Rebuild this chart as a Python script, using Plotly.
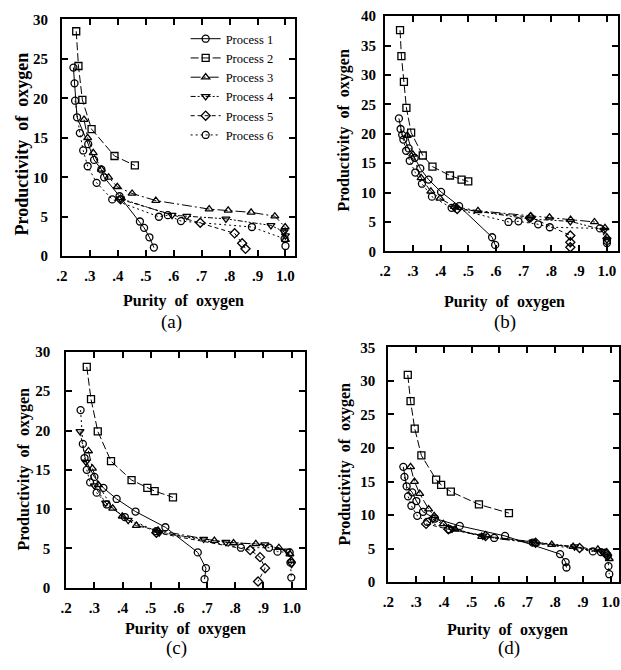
import plotly.graph_objects as go

# ---------------- data ----------------
PROCESSES = ["Process 1", "Process 2", "Process 3", "Process 4", "Process 5", "Process 6"]
X_TICK_VALS = [0.2, 0.3, 0.4, 0.5, 0.6, 0.7, 0.8, 0.9, 1.0]
X_TICK_TEXT = [".2", ".3", ".4", ".5", ".6", ".7", ".8", ".9", "1.0"]
PANEL_LABELS = ["(a)", "(b)", "(c)", "(d)"]
X_TITLE = "Purity of oxygen"
Y_TITLE = "Productivity of oxygen"

# panel (a)
A1_X = [0.241, 0.245, 0.254, 0.294, 0.315, 0.341, 0.351, 0.406, 0.479, 0.494, 0.513, 0.529]
A1_Y = [23.9, 21.9, 17.6, 14.2, 12.2, 11.0, 10.0, 7.6, 4.4, 3.6, 2.4, 1.1]
A2_X = [0.251, 0.259, 0.273, 0.306, 0.388, 0.461]
A2_Y = [28.5, 24.1, 19.8, 16.1, 12.7, 11.5]
A3_X = [0.279, 0.292, 0.312, 0.341, 0.367, 0.398, 0.451, 0.536, 0.727, 0.795, 0.877, 0.962, 0.999, 1.0]
A3_Y = [17.3, 15.0, 13.1, 11.0, 10.0, 8.8, 7.95, 7.05, 5.97, 5.8, 5.56, 5.07, 3.7, 2.1]
A4_X = [0.41, 0.594, 0.647, 0.787, 0.948, 0.995, 1.0]
A4_Y = [7.3, 5.2, 5.07, 4.74, 3.9, 3.1, 2.6]
A5_X = [0.41, 0.695, 0.818, 0.845, 0.857]
A5_Y = [7.2, 4.24, 2.9, 1.64, 0.94]
A6_X = [0.247, 0.264, 0.276, 0.292, 0.324, 0.38, 0.547, 0.579, 0.626, 0.88, 0.997, 1.0]
A6_Y = [19.7, 15.6, 13.4, 11.4, 9.3, 7.2, 5.0, 5.2, 4.45, 3.7, 2.2, 1.3]

# panel (b)
B1_X = [0.25, 0.262, 0.285, 0.307, 0.327, 0.357, 0.402, 0.467, 0.586, 0.597]
B1_Y = [22.6, 19.8, 17.5, 15.9, 14.1, 12.2, 10.1, 7.7, 2.4, 1.1]
B2_X = [0.254, 0.259, 0.268, 0.277, 0.294, 0.336, 0.371, 0.434, 0.476, 0.5]
B2_Y = [37.6, 33.2, 28.8, 24.4, 20.2, 16.3, 14.4, 12.9, 12.2, 11.9]
B3_X = [0.28, 0.30, 0.33, 0.365, 0.398, 0.45, 0.535, 0.725, 0.793, 0.869, 0.955, 0.993, 1.0]
B3_Y = [19.7, 16.5, 12.5, 10.2, 9.0, 7.6, 6.9, 6.0, 5.8, 5.4, 5.0, 4.0, 2.4]
B4_X = [0.45, 0.72, 0.868, 0.99, 1.0]
B4_Y = [7.4, 5.5, 5.1, 3.6, 2.0]
B5_X = [0.46, 0.725, 0.868, 0.868, 0.868]
B5_Y = [7.2, 5.8, 2.7, 1.55, 0.7]
B6_X = [0.256, 0.266, 0.276, 0.289, 0.309, 0.333, 0.369, 0.44, 0.645, 0.681, 0.752, 0.794, 0.975, 1.0, 1.0]
B6_Y = [20.8, 19.0, 17.1, 15.4, 13.4, 11.5, 9.3, 7.4, 5.0, 5.1, 4.6, 4.1, 3.9, 1.8, 1.4]

# panel (c)
C1_X = [0.265, 0.3, 0.332, 0.379, 0.446, 0.552, 0.667, 0.696, 0.691]
C1_Y = [16.5, 14.1, 12.7, 11.3, 9.7, 7.7, 4.5, 2.5, 1.1]
C2_X = [0.273, 0.288, 0.312, 0.359, 0.432, 0.488, 0.514, 0.579]
C2_Y = [28.1, 24.0, 19.9, 16.1, 13.7, 12.7, 12.3, 11.5]
C3_X = [0.279, 0.293, 0.314, 0.365, 0.399, 0.449, 0.526, 0.726, 0.794, 0.873, 0.955, 0.994, 0.999]
C3_Y = [17.4, 15.2, 13.1, 10.1, 9.1, 7.9, 7.3, 6.0, 5.7, 5.6, 5.1, 4.3, 3.5]
C4_X = [0.249, 0.27, 0.30, 0.34, 0.42, 0.53, 0.688, 0.767, 0.905, 0.985, 1.0]
C4_Y = [19.9, 16.0, 13.0, 10.8, 8.6, 7.0, 6.2, 5.8, 5.5, 4.7, 3.0]
C5_X = [0.52, 0.853, 0.888, 0.906, 0.881]
C5_Y = [7.0, 4.8, 3.9, 2.5, 0.8]
C6_X = [0.251, 0.259, 0.273, 0.285, 0.308, 0.344, 0.408, 0.52, 0.82, 0.92, 0.95, 0.993, 0.996, 0.999]
C6_Y = [22.6, 18.3, 15.0, 13.4, 12.1, 10.6, 9.0, 7.2, 5.1, 5.1, 4.6, 4.5, 3.2, 1.3]

# panel (d)
D1_X = [0.254, 0.266, 0.286, 0.301, 0.325, 0.368, 0.457, 0.62, 0.818, 0.838, 0.841]
D1_Y = [17.2, 14.3, 13.4, 12.1, 10.5, 9.5, 8.4, 6.9, 4.2, 3.0, 2.2]
D2_X = [0.27, 0.28, 0.295, 0.319, 0.372, 0.39, 0.425, 0.526, 0.634]
D2_Y = [30.9, 27.0, 22.9, 18.9, 15.3, 14.5, 13.5, 11.6, 10.3]
D3_X = [0.28, 0.294, 0.313, 0.345, 0.365, 0.398, 0.44, 0.536, 0.729, 0.788, 0.865, 0.954, 0.986, 0.995]
D3_Y = [17.2, 15.0, 13.2, 10.9, 9.9, 8.7, 7.9, 6.8, 5.8, 5.6, 5.3, 4.9, 4.5, 3.5]
D4_X = [0.36, 0.43, 0.54, 0.72, 0.87, 0.97, 0.99]
D4_Y = [9.4, 8.0, 6.9, 6.0, 5.3, 4.6, 3.8]
D5_X = [0.336, 0.416, 0.55, 0.73, 0.888, 0.98]
D5_Y = [8.7, 7.9, 6.9, 5.9, 5.1, 4.3]
D6_X = [0.258, 0.271, 0.283, 0.304, 0.34, 0.42, 0.581, 0.72, 0.936, 0.965, 0.989, 0.992, 0.995]
D6_Y = [15.7, 12.8, 11.4, 9.9, 9.0, 7.9, 6.6, 5.9, 4.6, 4.5, 4.0, 2.4, 1.2]

PANEL_DATA = [
    [(A1_X, A1_Y), (A2_X, A2_Y), (A3_X, A3_Y), (A4_X, A4_Y), (A5_X, A5_Y), (A6_X, A6_Y)],
    [(B1_X, B1_Y), (B2_X, B2_Y), (B3_X, B3_Y), (B4_X, B4_Y), (B5_X, B5_Y), (B6_X, B6_Y)],
    [(C1_X, C1_Y), (C2_X, C2_Y), (C3_X, C3_Y), (C4_X, C4_Y), (C5_X, C5_Y), (C6_X, C6_Y)],
    [(D1_X, D1_Y), (D2_X, D2_Y), (D3_X, D3_Y), (D4_X, D4_Y), (D5_X, D5_Y), (D6_X, D6_Y)],
]
Y_MAX = [30, 40, 30, 35]
X_MAX = [1.035, 1.04, 1.048, 1.03]

# ---------------- styling / layout ----------------
W, H = 621, 670
SYMBOLS = ["circle-open", "square-open", "triangle-up-open", "triangle-down-open", "diamond-open", "circle-open"]
DASHES = ["solid", "8px,3px", "10px,3px,2px,3px", "5px,2px,2px,2px,2px,2px", "4px,3px", "2px,3px"]

# plot boxes in pixels: left, right, top, bottom
BOXES = [(56.7, 293, 11.7, 254.3), (384, 620, 8.3, 249.3), (61, 303, 352.3, 594), (387.3, 621, 347.7, 588.3)]
YLAB_STANDOFF = [9, 4, 11, 8]
YTITLE_POS = [(16, 139, 18), (342, 126, 16), (18, 473, 16), (343, 468, 16)]
XTITLE_POS = [(180, 300), (505, 301), (182, 636), (508, 637)]
PLABEL_POS = [(168, 322), (506, 322), (173, 656), (510, 656)]

SERIF = "Liberation Serif, 'Times New Roman', Times, serif"
fig = go.Figure()

for p in range(4):
    suffix = "" if p == 0 else str(p + 1)
    for k, (xs, ys) in enumerate(PANEL_DATA[p]):
        fig.add_trace(go.Scatter(
            x=xs, y=ys, mode="lines+markers", name=PROCESSES[k],
            xaxis="x" + suffix, yaxis="y" + suffix,
            showlegend=(p == 0),
            line=dict(color="black", width=1, dash=DASHES[k]),
            marker=dict(symbol=SYMBOLS[k], size=7, color="black", line=dict(width=1.3, color="black")),
            cliponaxis=False,
        ))
    l, r, t, b = BOXES[p]
    fig.layout["xaxis" + suffix] = dict(
        domain=[l / W, r / W], range=[0.2, X_MAX[p]], anchor="y" + suffix,
        tickvals=X_TICK_VALS, ticktext=X_TICK_TEXT,
        ticks="inside", ticklen=6, tickwidth=1.5, tickcolor="black",
        showline=True, linewidth=2, linecolor="black", mirror="ticks",
        showgrid=False, zeroline=False, ticklabelstandoff=5,
        ticklabeloverflow="allow",
        tickfont=dict(family=SERIF, size=15, color="black", weight="bold"),
    )
    fig.layout["yaxis" + suffix] = dict(
        domain=[1 - b / H, 1 - t / H], range=[0, Y_MAX[p]], anchor="x" + suffix,
        dtick=5, tick0=0,
        ticks="inside", ticklen=6, tickwidth=1.5, tickcolor="black",
        showline=True, linewidth=2, linecolor="black", mirror="ticks",
        showgrid=False, zeroline=False, ticklabelstandoff=YLAB_STANDOFF[p],
        ticklabeloverflow="allow",
        tickfont=dict(family=SERIF, size=15, color="black", weight="bold"),
    )

annotations = []
for p in range(4):
    yx, yy, ysz = YTITLE_POS[p]
    annotations.append(dict(
        x=yx / W, y=1 - yy / H, xref="paper", yref="paper", showarrow=False,
        text=Y_TITLE.replace(" ", "\u00a0\u00a0"), textangle=-90,
        font=dict(family=SERIF, size=ysz, color="black", weight="bold"),
        xanchor="center", yanchor="middle",
    ))
    xx, xy = XTITLE_POS[p]
    annotations.append(dict(
        x=xx / W, y=1 - xy / H, xref="paper", yref="paper", showarrow=False,
        text=X_TITLE.replace(" ", "\u00a0\u00a0"),
        font=dict(family=SERIF, size=16, color="black", weight="bold"),
        xanchor="center", yanchor="middle",
    ))
    lx, ly = PLABEL_POS[p]
    annotations.append(dict(
        x=lx / W, y=1 - ly / H, xref="paper", yref="paper", showarrow=False,
        text=PANEL_LABELS[p],
        font=dict(family=SERIF, size=19, color="black"),
        xanchor="center", yanchor="middle",
    ))

fig.update_layout(
    width=W, height=H,
    margin=dict(l=0, r=0, t=0, b=0),
    paper_bgcolor="white", plot_bgcolor="white",
    annotations=annotations,
    legend=dict(
        x=182 / W, y=1 - 81 / H, xanchor="left", yanchor="middle",
        bgcolor="rgba(0,0,0,0)", borderwidth=0,
        font=dict(family=SERIF, size=12.5, color="black"),
        itemwidth=30, tracegroupgap=0,
    ),
)

# remove the default page margin so the figure starts at the window corner
fig.write_html(
    "out.html",
    config={"displayModeBar": False},
    post_script="document.body.style.margin='0';document.body.style.overflow='hidden';",
)
